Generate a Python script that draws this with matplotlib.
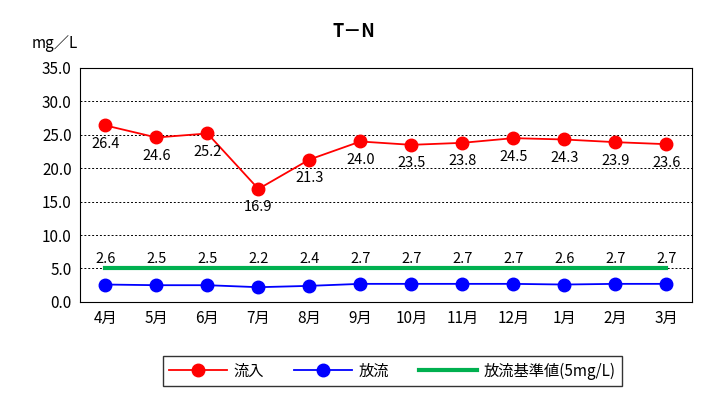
import matplotlib
matplotlib.use("Agg")
import matplotlib.pyplot as plt

plt.rcParams['font.family'] = ['Noto Sans CJK JP', 'DejaVu Sans']

months = ['4月','5月','6月','7月','8月','9月','10月','11月','12月','1月','2月','3月']
inflow = [26.4,24.6,25.2,16.9,21.3,24.0,23.5,23.8,24.5,24.3,23.9,23.6]
outflow = [2.6,2.5,2.5,2.2,2.4,2.7,2.7,2.7,2.7,2.6,2.7,2.7]
standard = [5.0]*12

fig = plt.figure(figsize=(7.08,4.17), dpi=100)
ax = fig.add_axes([0.113,0.276,0.864,0.561])
x = range(len(months))
ax.plot(x, inflow, color='#ff0000', marker='o', markersize=9, lw=1.3, label='流入')
ax.plot(x, outflow, color='#0000ff', marker='o', markersize=9, lw=1.3, label='放流')
ax.plot(x, standard, color='#00b050', lw=3, label='放流基準値(5mg/L)')
for i,v in enumerate(inflow):
    ax.text(i, v-1.7, f'{v:.1f}', ha='center', va='top', fontsize=10.5)
for i,v in enumerate(outflow):
    ax.text(i, 5.3, f'{v:.1f}', ha='center', va='bottom', fontsize=10.5)
ax.set_xlim(-0.5, 11.5)
ax.set_ylim(0, 35)
ax.set_yticks([i*5 for i in range(8)])
ax.set_yticklabels([f'{i*5:.1f}' for i in range(8)], fontsize=11)
ax.set_xticks(list(x))
ax.set_xticklabels(months, fontsize=11)
ax.yaxis.grid(True, color='black', ls=(0,(2,2)), lw=0.7)
ax.tick_params(length=0, pad=6)
for s in ax.spines.values():
    s.set_linewidth(0.8)
fig.text(0.5, 0.925, 'T－N', ha='center', va='center', fontsize=13, fontweight='bold')
fig.text(0.045, 0.895, 'mg／L', ha='left', va='center', fontsize=11)
leg = fig.legend(loc='center', bbox_to_anchor=(0.554, 0.11), ncol=3, frameon=True,
                 fancybox=False, edgecolor='black', fontsize=11, handlelength=3.8,
                 handletextpad=0.4, columnspacing=2.0)
fig.savefig('out.png', dpi=100)
